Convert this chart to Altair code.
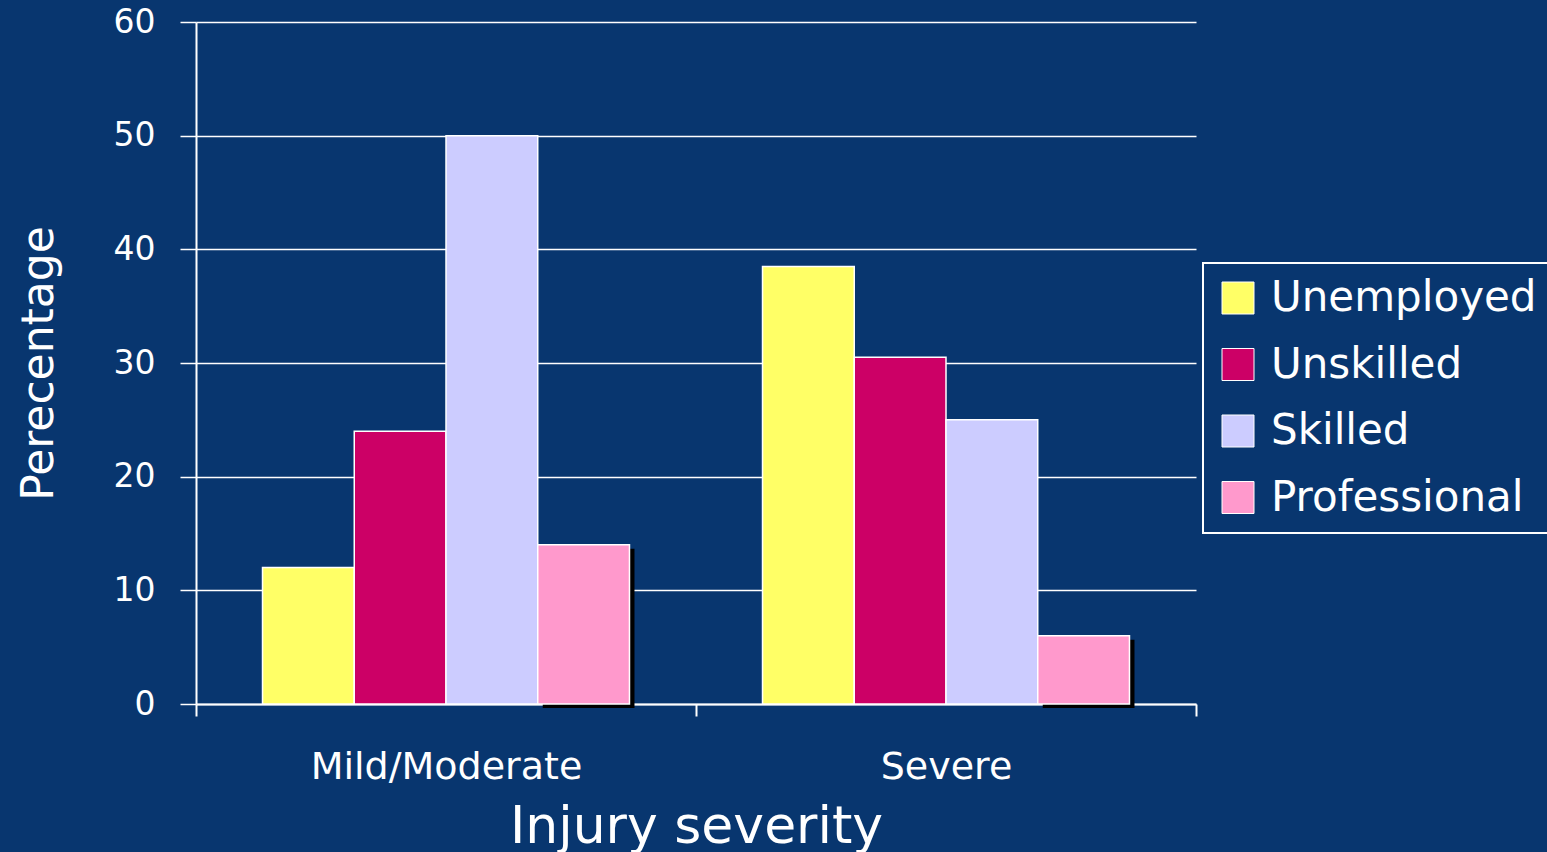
import altair as alt
import pandas as pd

categories = ["Mild/Moderate", "Severe"]
groups = ["Unemployed", "Unskilled", "Skilled", "Professional"]
mild_values = [12, 24, 50, 14]
severe_values = [38.5, 30.5, 25, 6]
colors = ["#FFFF66", "#CC0066", "#CCCCFF", "#FF99CC"]

rows = []
for g, v in zip(groups, mild_values):
    rows.append({"severity": categories[0], "group": g, "value": v})
for g, v in zip(groups, severe_values):
    rows.append({"severity": categories[1], "group": g, "value": v})
df = pd.DataFrame(rows)

BG = "#08366F"
FONT = "DejaVu Sans"

x_enc = alt.X(
    "severity:N",
    sort=categories,
    scale=alt.Scale(paddingInner=0, paddingOuter=0),
    axis=alt.Axis(
        title="Injury severity",
        labelAngle=0,
        tickBand="extent",
        tickSize=12,
        tickWidth=2,
        tickColor="white",
        domainColor="white",
        domainWidth=2,
        labelColor="white",
        labelFontSize=38,
        labelFont=FONT,
        labelPadding=62,
        labelBaseline="alphabetic",
        labelLimit=500,
        titleColor="white",
        titleFont=FONT,
        titleFontSize=52,
        titleFontWeight="normal",
        titleX=500,
        titleY=138,
        titleBaseline="alphabetic",
        grid=False,
    ),
)
xoff_main = alt.XOffset(
    "group:N",
    sort=groups,
    scale=alt.Scale(domain=groups, paddingInner=0, paddingOuter=0.725),
)
xoff_shadow = alt.XOffset(
    "group:N",
    sort=groups,
    scale=alt.Scale(domain=groups, paddingInner=0, paddingOuter=0.725, range=[5, 505]),
)
y_enc = alt.Y(
    "value:Q",
    scale=alt.Scale(domain=[0, 60], nice=False),
    axis=alt.Axis(
        title="Perecentage",
        values=[0, 10, 20, 30, 40, 50, 60],
        tickSize=16,
        tickWidth=1.5,
        tickColor="white",
        domainColor="white",
        domainWidth=2,
        gridColor="white",
        gridWidth=1.5,
        labelColor="white",
        labelFontSize=33,
        labelFont=FONT,
        labelPadding=25,
        titleColor="white",
        titleFont=FONT,
        titleFontSize=44,
        titleFontWeight="normal",
        titleAngle=-90,
        titleX=-144,
        titleY=341,
        titleAlign="center",
        titleBaseline="alphabetic",
    ),
)
color_enc = alt.Color(
    "group:N",
    sort=groups,
    scale=alt.Scale(domain=groups, range=colors),
    legend=alt.Legend(
        title=None,
        orient="none",
        legendX=1007,
        legendY=241,
        strokeColor="white",
        padding=14,
        symbolType="square",
        symbolSize=1024,
        symbolStrokeColor="white",
        symbolStrokeWidth=1,
        symbolOpacity=1,
        labelColor="white",
        labelFont=FONT,
        labelFontSize=42,
        labelOffset=12,
        rowPadding=24.5,
        labelLimit=400,
    ),
)

shadow = (
    alt.Chart(df)
    .transform_filter(alt.datum.group == "Professional")
    .mark_bar(color="black", yOffset=4)
    .encode(x=x_enc, xOffset=xoff_shadow, y=y_enc)
)

bars = (
    alt.Chart(df)
    .mark_bar(stroke="white", strokeWidth=1.5, opacity=1)
    .encode(x=x_enc, xOffset=xoff_main, y=y_enc, color=color_enc)
)

chart = (
    alt.layer(shadow, bars)
    .resolve_scale(xOffset="independent")
    .properties(
        width=1000,
        height=682,
        background=BG,
        padding={"left": 196, "top": 22, "right": 351, "bottom": 148},
        autosize=alt.AutoSizeParams(type="none"),
    )
    .configure_view(stroke=None)
    .configure_legend(strokeWidth=2)
)

chart.save("out.html", embed_options={"renderer": "svg", "actions": False})

with open("out.html", "r", encoding="utf-8") as f:
    html = f.read()
html = html.replace(
    "</head>",
    "<style>html,body{margin:0;padding:0;background:" + BG + ";overflow:hidden}</style></head>",
    1,
)
with open("out.html", "w", encoding="utf-8") as f:
    f.write(html)
